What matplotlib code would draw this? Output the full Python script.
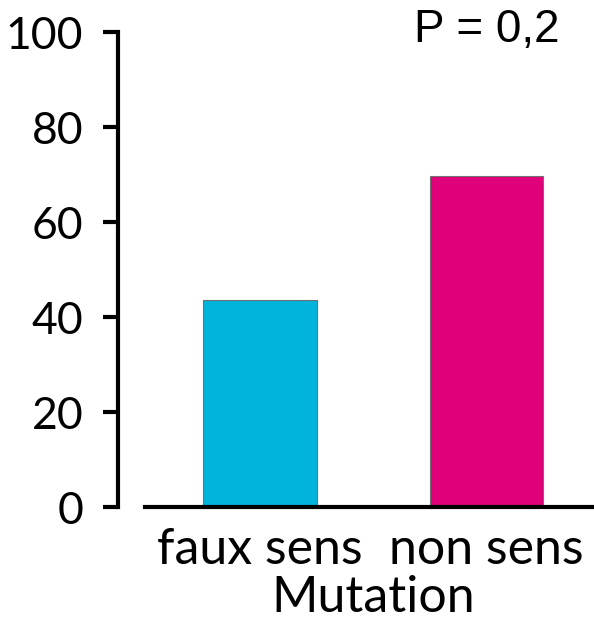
import matplotlib.pyplot as plt

categories = ["faux sens", "non sens"]
values = [43.6, 69.7]
colors = ["#00B4DC", "#E0007A"]
p_text = "P = 0,2"

plt.rcParams['font.family'] = ['Lato', 'DejaVu Sans']

fig = plt.figure(figsize=(5.94, 6.2), dpi=100)
ax = fig.add_axes([0.1987, 0.182, 0.8013, 0.766])

x = range(len(categories))
ax.bar(x, values, width=0.5, color=colors, edgecolor="#707070", linewidth=0.8, zorder=2)

ax.set_xlim(-0.627, 1.475)
ax.set_ylim(0, 100)
ax.set_yticks([0, 20, 40, 60, 80, 100])
ax.set_xticks(list(x))
ax.set_xticklabels(categories, fontsize=36)

for s in ['top', 'right']:
    ax.spines[s].set_visible(False)
ax.spines['left'].set_linewidth(3)
ax.spines['bottom'].set_linewidth(3)
ax.spines['bottom'].set_bounds(-0.508, 1.475)
ax.spines['bottom'].set_zorder(3)

ax.tick_params(axis='y', length=11, width=3, pad=14, labelsize=32)
ax.tick_params(axis='x', length=0, pad=14)

ax.set_xlabel("Mutation", fontsize=36)
ax.xaxis.set_label_coords(0.536, -0.143)

ax.text(0.775, 1.005, p_text, transform=ax.transAxes, ha='center', va='center',
        fontsize=33, family='Liberation Sans')

fig.savefig("out.png", dpi=100)
